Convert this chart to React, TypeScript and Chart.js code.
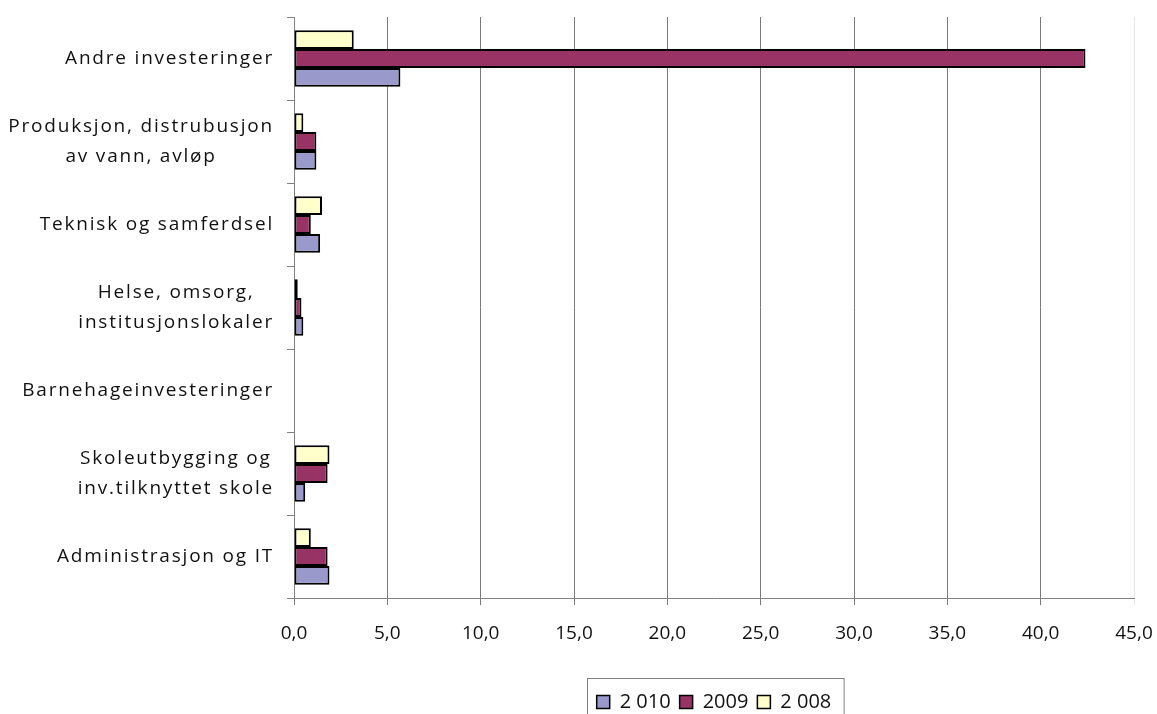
import React, { useEffect, useRef } from "react";
import { Chart, registerables } from "chart.js";

Chart.register(...registerables);

const categories: (string | string[])[] = [
  "Andre investeringer",
  ["Produksjon, distrubusjon", "av vann, avløp"],
  "Teknisk og samferdsel",
  ["Helse, omsorg,", "institusjonslokaler"],
  "Barnehageinvesteringer",
  ["Skoleutbygging og", "inv.tilknyttet skole"],
  "Administrasjon og IT",
];

const seriesNames = ["2 008", "2009", "2 010"];
const values2008: (number | null)[] = [3.2, 0.5, 1.5, 0.2, null, 1.9, 0.9];
const values2009: (number | null)[] = [42.4, 1.2, 0.9, 0.4, null, 1.8, 1.8];
const values2010: (number | null)[] = [5.7, 1.2, 1.4, 0.5, null, 0.6, 1.9];
const seriesColors = ["#FFFFCC", "#993366", "#9999CC"];

const xMin = 0;
const xMax = 45;
const xStep = 5;

const FONT = '"Open Sans", "Noto Sans", sans-serif';

const categoryLabelPlugin = {
  id: "categoryLabels",
  afterDraw(chart: any) {
    const ctx = chart.ctx;
    const yScale = chart.scales.y;
    ctx.save();
    ctx.font = `19px ${FONT}`;
    (ctx as any).letterSpacing = "1.8px";
    ctx.fillStyle = "#111";
    ctx.textAlign = "center";
    ctx.textBaseline = "middle";
    const right = yScale.right - 20;
    const lineH = 30;
    categories.forEach((cat, i) => {
      const lines = Array.isArray(cat) ? cat : [cat];
      const widths = lines.map((l) => ctx.measureText(l).width);
      const maxW = Math.max(...widths);
      const cx = right - maxW / 2;
      const cy = yScale.getPixelForValue(i);
      lines.forEach((l, j) => {
        const y = cy + (j - (lines.length - 1) / 2) * lineH;
        ctx.fillText(l, cx, y);
      });
    });
    ctx.restore();
  },
};

const legendBoxPlugin = {
  id: "legendBox",
  afterDraw(chart: any) {
    const lg = chart.legend;
    if (!lg || !lg.legendHitBoxes || !lg.legendHitBoxes.length) return;
    const hb = lg.legendHitBoxes;
    const left = Math.min(...hb.map((h: any) => h.left)) - 10;
    const right = Math.max(...hb.map((h: any) => h.left + h.width)) + 12;
    const top = hb[0].top - 14;
    const ctx = chart.ctx;
    ctx.save();
    ctx.strokeStyle = "#808080";
    ctx.lineWidth = 1;
    ctx.strokeRect(Math.round(left) + 0.5, Math.round(top) + 0.5, right - left, chart.height - top + 20);
    ctx.restore();
  },
};

export default function App() {
  const canvasRef = useRef<HTMLCanvasElement | null>(null);

  useEffect(() => {
    if (!canvasRef.current) return;
    const allValues = [values2008, values2009, values2010];
    const chart = new Chart(canvasRef.current, {
      type: "bar",
      data: {
        labels: categories as any,
        datasets: seriesNames.map((name, i) => ({
          label: name,
          data: allValues[i],
          backgroundColor: seriesColors[i],
          borderColor: "#000",
          borderWidth: 2,
          borderSkipped: false,
          categoryPercentage: 0.68,
          barPercentage: 1,
        })),
      },
      options: {
        indexAxis: "y",
        responsive: false,
        animation: false,
        layout: { padding: { top: 17, left: 0, right: 23, bottom: -8 } },
        scales: {
          y: {
            type: "category",
            offset: true,
            grid: {
              offset: true,
              drawOnChartArea: false,
              drawTicks: true,
              tickLength: 7,
              color: "#808080",
            },
            border: { display: true, color: "#808080" },
            ticks: { display: false },
            afterFit: (scale: any) => {
              scale.width = 294;
            },
          },
          x: {
            type: "linear",
            min: xMin,
            max: xMax,
            grid: {
              color: (c: any) => (c.tick && c.tick.value === xMax ? "#e6e6e6" : "#7a7a7a"),
              tickLength: 7,
            },
            border: { display: true, color: "#808080" },
            ticks: {
              stepSize: xStep,
              padding: 17,
              color: "#111",
              font: { family: FONT, size: 19 },
              callback: (v: any) => Number(v).toFixed(1).replace(".", ","),
            },
            afterFit: (scale: any) => {
              scale.height = 85;
              scale.paddingRight = 0;
              scale.paddingLeft = 0;
            },
          },
        },
        plugins: {
          legend: {
            position: "bottom",
            fullSize: false,
            reverse: true,
            labels: {
              boxWidth: 13,
              boxHeight: 13,
              padding: 9,
              color: "#111",
              font: { family: FONT, size: 20 },
              generateLabels: (ch: any) =>
                Chart.defaults.plugins.legend.labels
                  .generateLabels(ch)
                  .map((l: any) => ({ ...l, lineWidth: 1.5 })),
            },
          },
          tooltip: { enabled: false },
        },
      },
      plugins: [categoryLabelPlugin, legendBoxPlugin],
    });
    return () => chart.destroy();
  }, []);

  return (
    <div style={{ position: "fixed", left: 0, top: 0, width: 1157, height: 714, background: "#fff" }}>
      <canvas ref={canvasRef} width={1157} height={714} />
    </div>
  );
}
